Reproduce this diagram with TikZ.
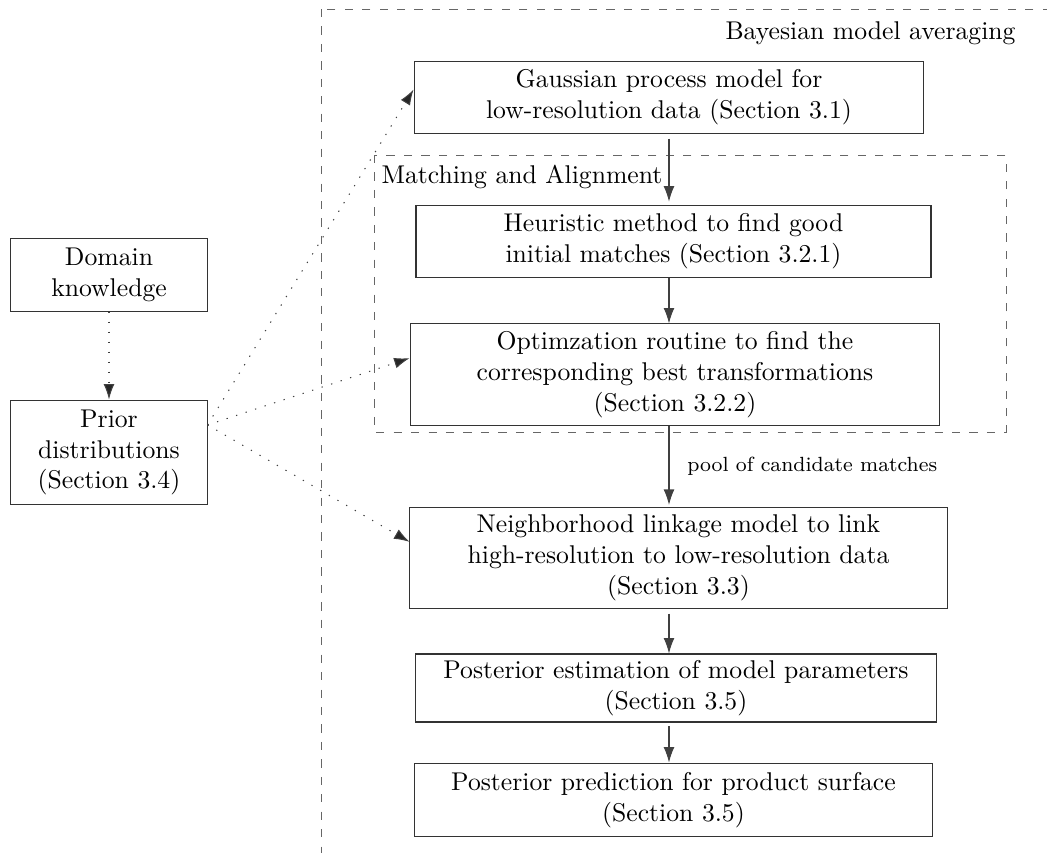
\documentclass[tikz,border=0pt]{standalone}
\usetikzlibrary{arrows.meta,calc}
\begin{document}
\begin{tikzpicture}[x=0.3897pt,y=-0.3897pt,
  box/.style={draw=black!80,line width=0.4pt,rectangle,align=center,inner sep=2pt},
  arr/.style={draw=black!75,line width=0.4pt,-{Latex[length=6pt,width=4.2pt]}},
  dotarr/.style={draw=black!75,line width=0.4pt,dash pattern=on 0.5pt off 3.4pt,-{Latex[length=6pt,width=4.2pt,fill=black!85]}},
  dashbox/.style={draw=black!60,line width=0.35pt,dash pattern=on 3.2pt off 3.6pt},
  lbl/.style={inner sep=0pt}]
\useasboundingbox (0,0) rectangle (1047,853);
\begin{scope}
\clip (0,0) rectangle (1047,853);
\draw[dashbox] (321,9) rectangle (1080,880);
\end{scope}
\draw[dashbox] (374,155) rectangle (1006,432);
\node[lbl,anchor=base east] (bma) at (1016,39) {Bayesian model averaging};
\node[lbl,anchor=base west] (maa) at (381,183) {Matching and Alignment};

\node[box,minimum width=198.7pt,minimum height=27.7pt] (g) at (669,97.5) {Gaussian process model for\\low-resolution data (Section 3.1)};
\node[box,minimum width=200.7pt,minimum height=27.7pt] (h) at (673.5,241.5) {Heuristic method to find good\\initial matches (Section 3.2.1)};
\node[box,minimum width=206.5pt,minimum height=39.4pt] (o) at (675,374.5) {Optimzation routine to find the\\corresponding best transformations\\(Section 3.2.2)};
\node[box,minimum width=209.3pt,minimum height=39pt] (n) at (678.5,558) {Neighborhood linkage model to link\\high-resolution to low-resolution data\\(Section 3.3)};
\node[box,minimum width=203.4pt,minimum height=26.5pt] (pe) at (676,688) {Posterior estimation of model parameters\\(Section 3.5)};
\node[box,minimum width=201.5pt,minimum height=28.8pt] (pp) at (673.5,800) {Posterior prediction for product surface\\(Section 3.5)};
\node[box,minimum width=76.4pt,minimum height=28.1pt] (d) at (109,275) {Domain\\knowledge};
\node[box,minimum width=76.4pt,minimum height=40.9pt] (pr) at (109,452.5) {Prior\\distributions\\(Section 3.4)};

\coordinate (ax) at (669,0);
\draw[arr,shorten <=2pt,shorten >=1.5pt] (g.south -| ax) -- (h.north -| ax);
\draw[arr] (h.south -| ax) -- (o.north -| ax);
\draw[arr,shorten >=1pt] (o.south -| ax) -- (n.north -| ax)
  node[pos=0.5,anchor=west,inner sep=0pt,xshift=7pt,font=\footnotesize] (pool) {pool of candidate matches};
\draw[arr,shorten <=2pt] (n.south -| ax) -- (pe.north -| ax);
\draw[arr,shorten <=1.5pt] (pe.south -| ax) -- (pp.north -| ax);

\coordinate (src) at ($(pr.north east)!0.24!(pr.south east)$);
\draw[dotarr] (d.south) -- (pr.north);
\draw[dotarr] (src) -- ($(g.north west)!0.39!(g.south west)$);
\draw[dotarr] (src) -- ($(o.north west)!0.34!(o.south west)$);
\draw[dotarr] (src) -- ($(n.north west)!0.34!(n.south west)$);
\end{tikzpicture}
\end{document}
